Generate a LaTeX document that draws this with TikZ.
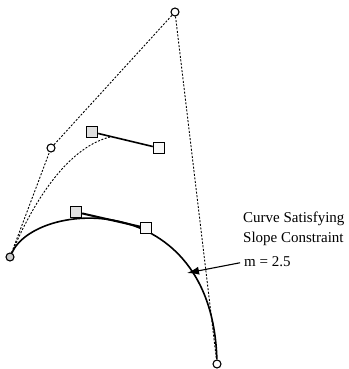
\documentclass[tikz,border=0pt]{standalone}
\usepackage{fontspec}
\setmainfont{Liberation Serif}
\usetikzlibrary{arrows.meta}
\tikzset{
  ctl/.style={circle, draw, fill=white, line width=1.1pt, inner sep=0pt, minimum size=8pt},
  hnd/.style={rectangle, draw, line width=1.4pt, inner sep=0pt, minimum size=11pt},
  aux/.style={dashed, dash pattern=on 2pt off 1.6pt, line width=0.9pt},
  crv/.style={line width=1.6pt},
  lbl/.style={font=\fontsize{15}{20}\selectfont, align=left, inner sep=0pt},
}

\begin{document}
\begin{tikzpicture}[x=1pt, y=-1pt]
    \useasboundingbox (0,0) rectangle (348,369);
    % control polygon
    \node[ctl, fill=gray!40] (p0) at (10,257) {};
    \node[ctl] (p1) at (51,148) {};
    \node[ctl] (p2) at (175,12) {};
    \node[ctl] (p3) at (217,364) {};
    \draw[aux] (p0) -- (p1) -- (p2) -- (p3);
    % partial curve with its tangent
    \coordinate (t1) at (110,137);
    \draw[aux] (p0) .. controls (32,205) and (66,148) .. (t1);
    \node[hnd, fill=gray!25] (a1) at (92,132) {};
    \node[hnd, fill=gray!5] (b1) at (159,148) {};
    \draw[crv] (a1) -- (b1);
    % curve satisfying the slope constraint
    \draw[crv] (p0) .. controls (36,200) and (212,188) .. (p3);
    \node[hnd, fill=gray!25] (a2) at (76,212) {};
    \node[hnd, fill=gray!5] (b2) at (146,228) {};
    \draw[crv, line width=2pt] (a2) -- (b2);
    % label
    \node[lbl, anchor=west] (txt) at (243,229) {Curve Satisfying\\Slope Constraint};
    \node[lbl, anchor=west] (m) at (244,262) {m = 2.5};
    \coordinate (hit) at (187,273);
    \draw[line width=1.1pt, shorten <=4pt, -{Latex[length=12pt, width=8pt]}] (m.west) -- (hit);
\end{tikzpicture}
\end{document}
